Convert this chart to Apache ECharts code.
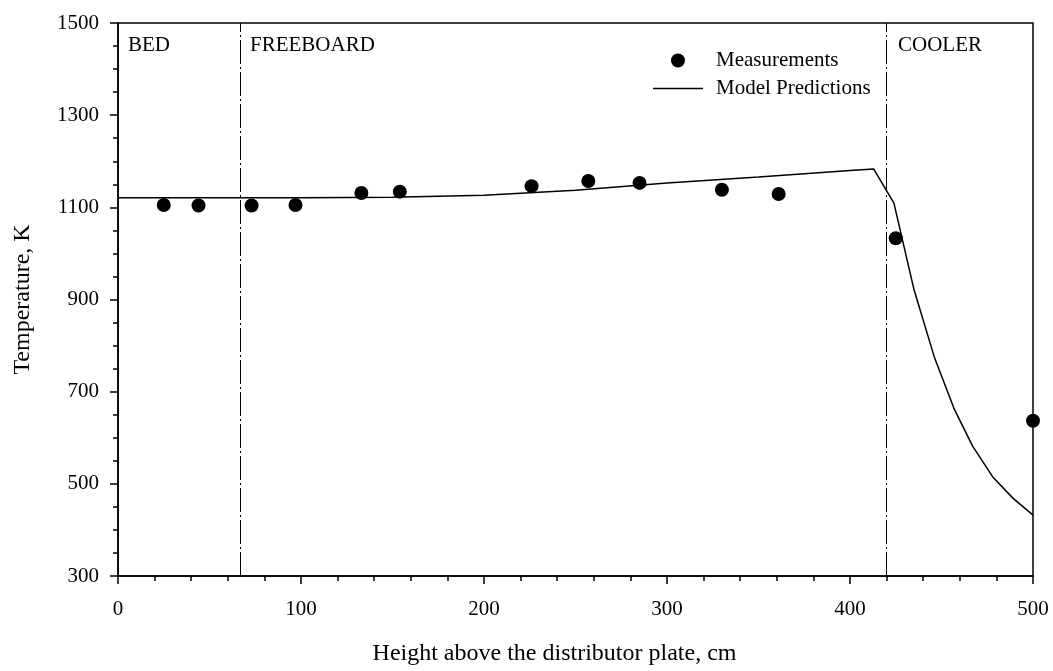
<!DOCTYPE html>
<html>
<head>
<meta charset="utf-8">
<script src="https://cdn.jsdelivr.net/npm/echarts@6/dist/echarts.min.js"></script>
<style>
html,body{margin:0;padding:0;background:#fff;}
#chart{width:1053px;height:671px;}
</style>
</head>
<body>
<div id="chart"></div>
<script>
// Measurements: [height cm, temperature K]
const measuredHeights = [25, 44, 73, 97, 133, 154, 226, 257, 285, 330, 361, 425, 500];
const measuredTemps   = [1105, 1104, 1104, 1105, 1131, 1134, 1146, 1157, 1153, 1138, 1129, 1033, 637];

// Model predictions
const modelHeights = [0, 50, 100, 150, 200, 250, 300, 350, 400, 413, 424, 435, 446, 457, 467, 478, 489, 500];
const modelTemps   = [1121, 1121, 1121, 1122, 1126, 1137, 1153, 1166, 1180, 1183, 1109, 921, 776, 662, 582, 515, 469, 432];

// Zone boundaries (cm) and labels
const zoneBoundaries = [67, 420];
const zoneLabels = ['BED', 'FREEBOARD', 'COOLER'];

const xTitle = 'Height above the distributor plate, cm';
const yTitle = 'Temperature, K';
const seriesNames = ['Measurements', 'Model Predictions'];

const FONT = '"Liberation Serif", "Times New Roman", serif';

const chart = echarts.init(document.getElementById('chart'), null, {renderer: 'canvas'});

const measured = measuredHeights.map((h, i) => [h, measuredTemps[i]]);
const model = modelHeights.map((h, i) => [h, modelTemps[i]]);

const option = {
  backgroundColor: '#fff',
  animation: false,
  textStyle: {fontFamily: FONT, color: '#000'},
  grid: {
    left: 118, right: 20, top: 23, bottom: 95,
    show: true, borderColor: '#000', borderWidth: 1.5, backgroundColor: 'transparent'
  },
  legend: {
    orient: 'vertical',
    left: 648, top: 45,
    itemWidth: 50, itemHeight: 14,
    itemGap: 7,
    textStyle: {fontFamily: FONT, fontSize: 21, color: '#000', padding: [0, 0, 0, 8]},
    data: [
      {name: seriesNames[0], icon: 'circle', itemStyle: {color: '#000', opacity: 1}},
      {name: seriesNames[1], icon: 'path://M0,0L100,0L100,3L0,3Z', itemStyle: {color: '#000'}}
    ]
  },
  xAxis: {
    type: 'value',
    min: 0, max: 500, interval: 100,
    name: xTitle,
    nameLocation: 'middle',
    nameGap: 66,
    nameTextStyle: {fontFamily: FONT, fontSize: 24, color: '#000', padding: [0, 42, 0, 0]},
    axisLine: {show: true, onZero: false, lineStyle: {color: '#000', width: 1.5}},
    axisTick: {show: true, inside: false, length: 8, lineStyle: {color: '#000', width: 1.5}},
    minorTick: {show: true, splitNumber: 5, length: 5, lineStyle: {color: '#000', width: 1.5}},
    axisLabel: {fontFamily: FONT, fontSize: 21, color: '#000', margin: 23, formatter: v => String(v)},
    splitLine: {show: false}
  },
  yAxis: {
    type: 'value',
    min: 300, max: 1500, interval: 200,
    name: yTitle,
    nameLocation: 'middle',
    nameGap: 83,
    nameTextStyle: {fontFamily: FONT, fontSize: 24, color: '#000'},
    axisLine: {show: true, onZero: false, lineStyle: {color: '#000', width: 1.5}},
    axisTick: {show: true, inside: false, length: 8, lineStyle: {color: '#000', width: 1.5}},
    minorTick: {show: true, splitNumber: 4, length: 5, lineStyle: {color: '#000', width: 1.5}},
    axisLabel: {fontFamily: FONT, fontSize: 21, color: '#000', margin: 19, formatter: v => String(v)},
    splitLine: {show: false}
  },
  series: [
    {
      name: seriesNames[0],
      type: 'scatter',
      data: measured,
      symbol: 'circle',
      symbolSize: 14,
      clip: false,
      itemStyle: {color: '#000', opacity: 1},
      emphasis: {disabled: true},
      z: 5
    },
    {
      name: seriesNames[1],
      type: 'line',
      data: model,
      symbol: 'none',
      showSymbol: false,
      smooth: false,
      lineStyle: {color: '#000', width: 1.5},
      itemStyle: {color: '#000'},
      emphasis: {disabled: true},
      markLine: {
        silent: true,
        symbol: ['none', 'none'],
        label: {show: false},
        lineStyle: {color: '#000', width: 1, type: [24, 3, 2, 3]},
        data: zoneBoundaries.map(b => ({xAxis: b}))
      },
      z: 4
    }
  ],
  graphic: [
    {type: 'text', left: 128, top: 35, style: {text: zoneLabels[0], font: '21px ' + FONT, fill: '#000'}},
    {type: 'text', left: 250, top: 35, style: {text: zoneLabels[1], font: '21px ' + FONT, fill: '#000'}},
    {type: 'text', left: 898, top: 35, style: {text: zoneLabels[2], font: '21px ' + FONT, fill: '#000'}}
  ]
};

chart.setOption(option);
</script>
</body>
</html>
